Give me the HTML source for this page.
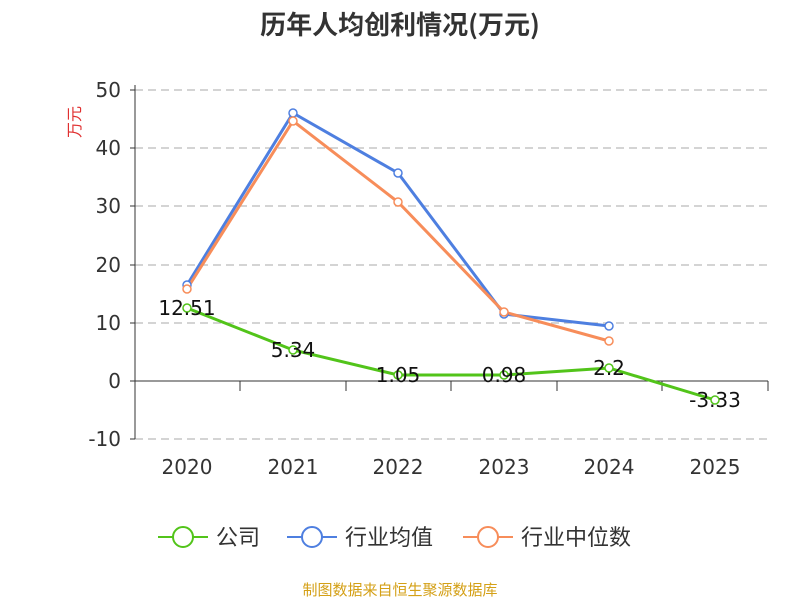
<!DOCTYPE html>
<html><head><meta charset="utf-8"><style>
body{margin:0;background:#fff;}
svg{display:block;font-family:"DejaVu Sans","Noto Sans CJK SC",sans-serif;}
</style></head><body>
<svg width="800" height="600" viewBox="0 0 800 600">
<text x="400" y="34" text-anchor="middle" font-size="26" font-weight="bold" fill="#333" font-family="Noto Sans CJK SC, sans-serif">历年人均创利情况(万元)</text>
<text x="80" y="122" font-size="16" fill="#e03030" transform="rotate(-90 80 122)" text-anchor="middle" font-family="Noto Sans CJK SC, sans-serif">万元</text>
<g stroke="#bbb" stroke-dasharray="8,5" stroke-width="1.2">
<line x1="135" y1="90" x2="768" y2="90"/><line x1="135" y1="148" x2="768" y2="148"/>
<line x1="135" y1="206" x2="768" y2="206"/><line x1="135" y1="265" x2="768" y2="265"/>
<line x1="135" y1="323" x2="768" y2="323"/><line x1="135" y1="439" x2="768" y2="439"/>
</g>
<line x1="135" y1="381" x2="768" y2="381" stroke="#333"/>
<line x1="135" y1="85" x2="135" y2="439" stroke="#333"/>
<g stroke="#333">
<line x1="130" y1="90" x2="135" y2="90"/><line x1="130" y1="148" x2="135" y2="148"/><line x1="130" y1="206" x2="135" y2="206"/><line x1="130" y1="265" x2="135" y2="265"/><line x1="130" y1="323" x2="135" y2="323"/><line x1="130" y1="381" x2="135" y2="381"/><line x1="130" y1="439" x2="135" y2="439"/>
<line x1="240" y1="381" x2="240" y2="391"/><line x1="346" y1="381" x2="346" y2="391"/><line x1="451" y1="381" x2="451" y2="391"/><line x1="557" y1="381" x2="557" y2="391"/><line x1="662" y1="381" x2="662" y2="391"/><line x1="768" y1="381" x2="768" y2="391"/>
</g>
<g font-size="20" fill="#333" text-anchor="end">
<text x="121" y="97">50</text><text x="121" y="155">40</text><text x="121" y="213">30</text><text x="121" y="272">20</text><text x="121" y="330">10</text><text x="121" y="388">0</text><text x="121" y="446">-10</text>
</g>
<g font-size="20" fill="#333" text-anchor="middle">
<text x="187" y="474">2020</text><text x="293" y="474">2021</text><text x="398" y="474">2022</text><text x="504" y="474">2023</text><text x="609" y="474">2024</text><text x="715" y="474">2025</text>
</g>
<polyline points="187,285 293,113 398,173 504,314 609,326" fill="none" stroke="#4e7fe0" stroke-width="3"/>
<polyline points="187,289 293,121 398,202 504,312 609,341" fill="none" stroke="#f78d5a" stroke-width="3"/>
<polyline points="187,308 293,350 398,375 504,375 609,368 715,400" fill="none" stroke="#52c41a" stroke-width="3"/>
<g fill="#fff" stroke="#4e7fe0" stroke-width="1.5"><circle cx="187" cy="285" r="4"/><circle cx="293" cy="113" r="4"/><circle cx="398" cy="173" r="4"/><circle cx="504" cy="314" r="4"/><circle cx="609" cy="326" r="4"/></g>
<g fill="#fff" stroke="#f78d5a" stroke-width="1.5"><circle cx="187" cy="289" r="4"/><circle cx="293" cy="121" r="4"/><circle cx="398" cy="202" r="4"/><circle cx="504" cy="312" r="4"/><circle cx="609" cy="341" r="4"/></g>
<g fill="#fff" stroke="#52c41a" stroke-width="1.5"><circle cx="187" cy="308" r="4"/><circle cx="293" cy="350" r="4"/><circle cx="398" cy="375" r="4"/><circle cx="504" cy="375" r="4"/><circle cx="609" cy="368" r="4"/><circle cx="715" cy="400" r="4"/></g>
<g font-size="20" fill="#111" text-anchor="middle">
<text x="187" y="315">12.51</text><text x="293" y="357">5.34</text><text x="398" y="382">1.05</text><text x="504" y="382">0.98</text><text x="609" y="375">2.2</text><text x="715" y="407">-3.33</text>
</g>
<g font-size="22" fill="#333" font-family="Noto Sans CJK SC, sans-serif">
<line x1="158" y1="537" x2="208" y2="537" stroke="#52c41a" stroke-width="2"/><circle cx="183" cy="537" r="10" fill="#fff" stroke="#52c41a" stroke-width="2"/><text x="216" y="545">公司</text>
<line x1="287" y1="537" x2="337" y2="537" stroke="#4e7fe0" stroke-width="2"/><circle cx="312" cy="537" r="10" fill="#fff" stroke="#4e7fe0" stroke-width="2"/><text x="345" y="545">行业均值</text>
<line x1="463" y1="537" x2="513" y2="537" stroke="#f78d5a" stroke-width="2"/><circle cx="488" cy="537" r="10" fill="#fff" stroke="#f78d5a" stroke-width="2"/><text x="521" y="545">行业中位数</text>
</g>
<text x="400" y="595" text-anchor="middle" font-size="15" fill="#d4a017" font-family="Noto Sans CJK SC, sans-serif">制图数据来自恒生聚源数据库</text>
</svg>
</body></html>
